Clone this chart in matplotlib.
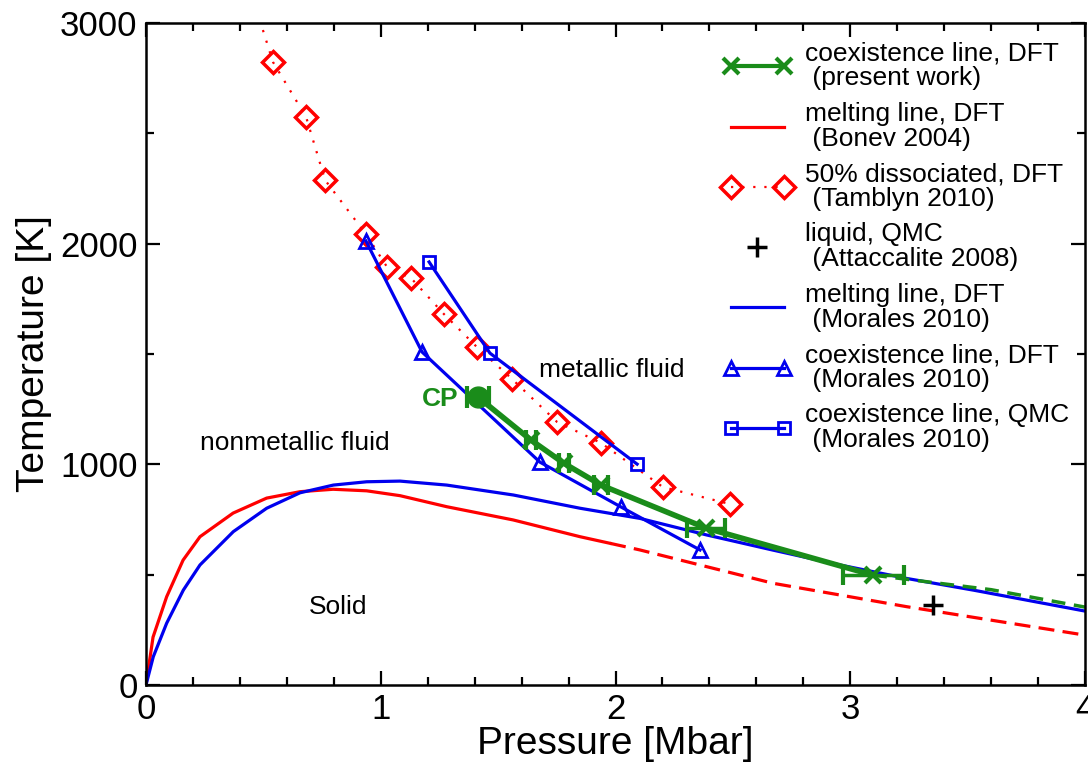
import matplotlib
matplotlib.use("Agg")
from matplotlib import pyplot as plt
from matplotlib.lines import Line2D
from matplotlib.legend_handler import HandlerLine2D

plt.rcParams['font.family'] = ['Liberation Sans', 'DejaVu Sans']

# melting line, DFT (Bonev 2004) - solid part then dashed extrapolation
bonev_p = [0.0, 0.03, 0.088, 0.158, 0.23, 0.371, 0.514, 0.656, 0.797, 0.94, 1.082, 1.281, 1.564, 1.849, 1.977]
bonev_t = [0, 217, 400, 566, 672, 779, 847, 876, 887, 880, 858, 808, 748, 672, 642]
bonev_ext_p = [1.977, 2.104, 2.671, 3.24, 4.0]
bonev_ext_t = [642, 612, 461, 355, 226]

# melting line, DFT (Morales 2010)
morales_p = [0.0, 0.031, 0.088, 0.159, 0.23, 0.372, 0.514, 0.656, 0.798, 0.94, 1.082, 1.281, 1.565, 1.849,
             2.104, 2.388, 2.672, 2.956, 3.24, 3.524, 4.0]
morales_t = [0, 128, 280, 430, 544, 695, 801, 871, 906, 921, 924, 906, 861, 801,
             755, 680, 611, 544, 483, 430, 335]

# 50% dissociated (Tamblyn 2010)
tamb_line_p = [0.498]
tamb_line_t = [2968]
tamb_p = [0.541, 0.682, 0.763, 0.937, 1.027, 1.129, 1.269, 1.41, 1.559, 1.751, 1.938, 2.202, 2.488]
tamb_t = [2823, 2574, 2288, 2043, 1894, 1844, 1681, 1531, 1387, 1192, 1097, 897, 820]

# coexistence line, DFT (Morales 2010)
mdft_p = [0.937, 1.176, 1.678, 2.023, 2.36]
mdft_t = [2012, 1509, 1010, 807, 612]

# coexistence line, QMC (Morales 2010)
mqmc_p = [1.206, 1.465, 2.092]
mqmc_t = [1917, 1504, 1001]

# coexistence line, DFT (present work)
cp_p, cp_t, cp_err = 1.414, 1305, 0.045
coex_p = [1.64, 1.78, 1.94, 2.386, 3.097]
coex_t = [1110, 1005, 905, 711, 498]
coex_err = [0.02, 0.02, 0.03, 0.08, 0.13]
coex_ext_p = [3.097, 3.6, 4.0]
coex_ext_t = [498, 432, 353]

# liquid, QMC (Attaccalite 2008)
att_p = [3.351]
att_t = [362]

green = '#1a8c1a'
red = '#ff0000'
blue = '#0000ee'

fig = plt.figure(figsize=(10.88, 7.65), dpi=100)
ax = fig.add_axes([146 / 1088, 80 / 765, 939 / 1088, 662 / 765])

ax.plot(bonev_p, bonev_t, color=red, lw=2.3)
ax.plot(bonev_ext_p, bonev_ext_t, color=red, lw=2.3, linestyle=(0, (5, 2.6)))
ax.plot(morales_p, morales_t, color=blue, lw=2.3)

ax.plot(tamb_line_p + tamb_p, tamb_line_t + tamb_t, color=red, lw=1.6, linestyle=(0, (1, 4)))
ax.plot(tamb_p, tamb_t, linestyle='none', marker='D', ms=11, mfc='none', mec=red, mew=2.5)

ax.plot(mdft_p, mdft_t, color=blue, lw=2.3, marker='^', ms=10, mfc='none', mew=2)
ax.plot(mqmc_p, mqmc_t, color=blue, lw=2.3, marker='s', ms=9, mfc='none', mew=2)

# present work
ax.plot([cp_p] + coex_p, [cp_t] + coex_t, color=green, lw=4)
ax.plot(coex_ext_p, coex_ext_t, color=green, lw=2.5, linestyle=(0, (4, 2.5)))
ax.errorbar(coex_p, coex_t, xerr=coex_err, fmt='x', color=green, ms=12, mew=3,
            elinewidth=2.5, capsize=7, capthick=2.5)
ax.errorbar([cp_p], [cp_t], xerr=[cp_err], fmt='o', color=green, ms=15,
            elinewidth=4, capsize=8, capthick=3)

ax.plot(att_p, att_t, linestyle='none', marker='+', color='black', ms=14, mew=2.5)

ax.text(0.23, 1096, 'nonmetallic fluid', fontsize=19, ha='left', va='center')
ax.text(1.985, 1427, 'metallic fluid', fontsize=19, ha='center', va='center')
ax.text(0.818, 353, 'Solid', fontsize=19, ha='center', va='center')
ax.text(1.33, 1296, 'CP', fontsize=19, fontweight='bold', color=green, ha='right', va='center')

ax.set_xlim(0, 4)
ax.set_ylim(0, 3000)
ax.set_xticks([0, 1, 2, 3, 4])
ax.set_yticks([0, 1000, 2000, 3000])
ax.set_xticks([i * 0.2 for i in range(21)], minor=True)
ax.set_yticks([i * 500 for i in range(7)], minor=True)
ax.tick_params(which='both', direction='in', top=True, right=True, width=1.6)
ax.tick_params(which='major', length=10, labelsize=25, pad=6)
ax.tick_params(which='minor', length=6)
for s in ax.spines.values():
    s.set_linewidth(1.8)

ax.set_xlabel('Pressure [Mbar]', fontsize=28, labelpad=0)
ax.set_ylabel('Temperature [K]', fontsize=28, labelpad=6)

plus_handle = Line2D([], [], color='black', linestyle='none', marker='+', ms=14, mew=2.5)
handles = [
    Line2D([], [], color=green, lw=3, marker='x', ms=12, mew=3),
    Line2D([], [], color=red, lw=2.3),
    Line2D([], [], color=red, lw=1.6, linestyle=(0, (1, 4)), marker='D', ms=11, mfc='none', mew=2.5),
    plus_handle,
    Line2D([], [], color=blue, lw=2.3),
    Line2D([], [], color=blue, lw=2.3, marker='^', ms=10, mfc='none', mew=2),
    Line2D([], [], color=blue, lw=2.3, marker='s', ms=9, mfc='none', mew=2),
]
labels = [
    'coexistence line, DFT\n (present work)',
    'melting line, DFT\n (Bonev 2004)',
    '50% dissociated, DFT\n (Tamblyn 2010)',
    'liquid, QMC\n (Attaccalite 2008)',
    'melting line, DFT\n (Morales 2010)',
    'coexistence line, DFT\n (Morales 2010)',
    'coexistence line, QMC\n (Morales 2010)',
]
leg = ax.legend(handles, labels, loc='upper left', bbox_to_anchor=(0.6145, 0.972),
                frameon=False, fontsize=19, numpoints=2, handlelength=2.6,
                handletextpad=0.5, labelspacing=0.43, borderpad=0, borderaxespad=0,
                handler_map={plus_handle: HandlerLine2D(numpoints=1)})
for t in leg.get_texts():
    t.set_linespacing(1.05)

fig.savefig('out.png', dpi=100)
